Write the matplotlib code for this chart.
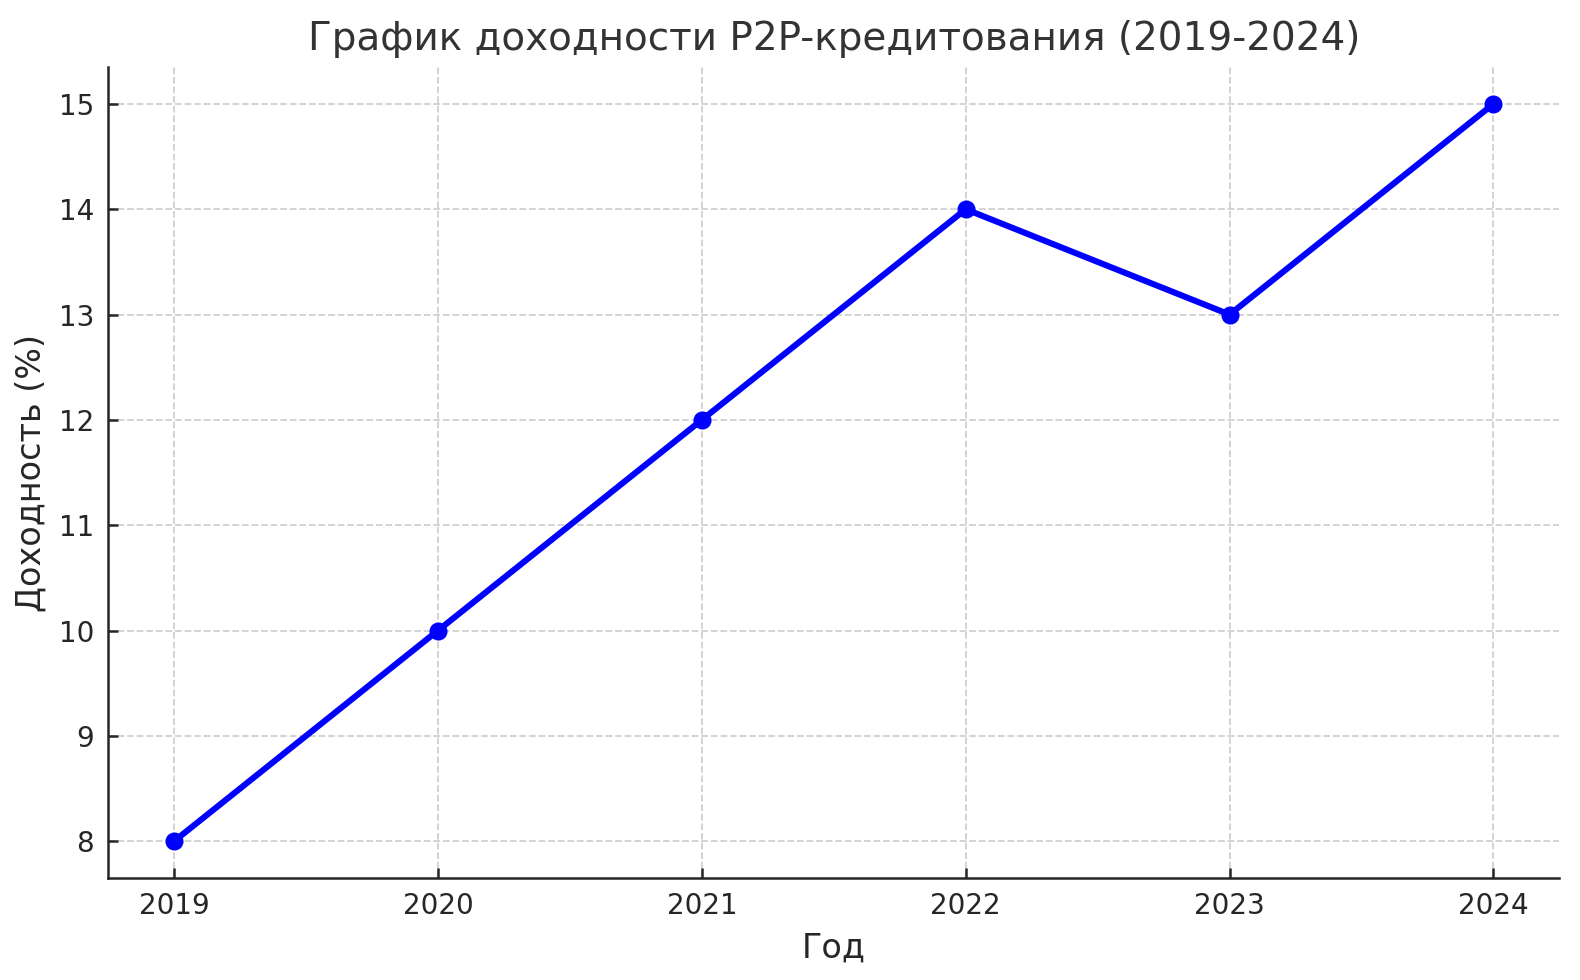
import matplotlib

matplotlib.use("Agg")

import matplotlib.pyplot as plt

years = [2019, 2020, 2021, 2022, 2023, 2024]
returns = [8, 10, 12, 14, 13, 15]

fig, ax = plt.subplots(figsize=(7.9, 4.9), dpi=200)
ax.plot(years, returns, marker="o", color="blue", linewidth=2.2, markersize=5.5)
ax.set_title("График доходности P2P-кредитования (2019-2024)", fontsize=14, color="#333333")
ax.set_xlabel("Год", fontsize=12, color="#262626")
ax.set_ylabel("Доходность (%)", fontsize=12, color="#262626")
ax.set_xticks(years)
ax.tick_params(labelsize=10, labelcolor="#262626", color="#262626", direction="in", length=3.5, width=0.9, pad=5)
ax.grid(True, linestyle="--", color="#d0d0d0", linewidth=0.65)
ax.spines["top"].set_visible(False)
ax.spines["right"].set_visible(False)
for side in ("left", "bottom"):
    ax.spines[side].set_linewidth(0.9)
    ax.spines[side].set_color("#262626")
fig.subplots_adjust(left=0.0684, right=0.987, bottom=0.104, top=0.9316)
fig.savefig("out.png", dpi=200)
